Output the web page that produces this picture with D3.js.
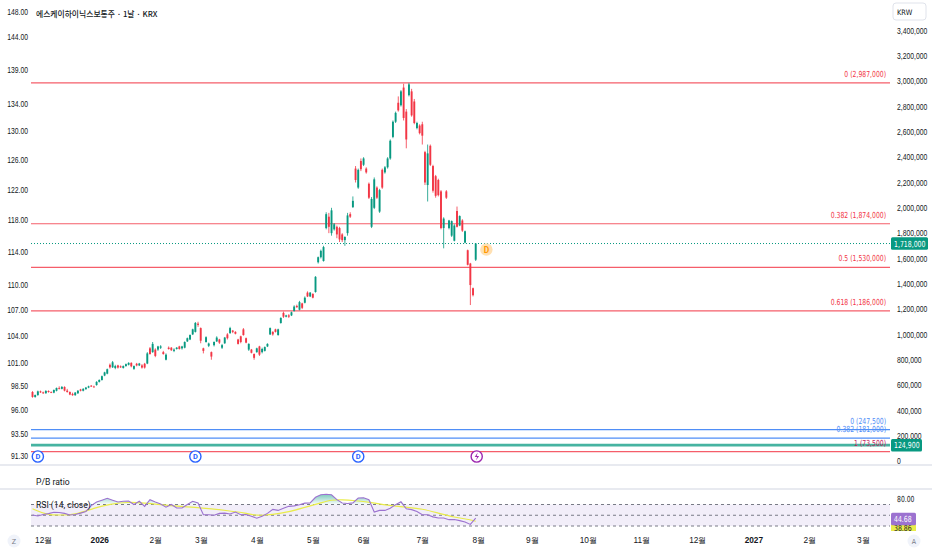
<!DOCTYPE html>
<meta charset="utf-8">
<style>
body { margin: 0; background: #fff; }
svg { display: block; font-family: "Liberation Sans Narrow", "DejaVu Sans Condensed", Roboto, sans-serif; }
.axis path.domain, .axis line { display: none; }
.axis text { font-size: 8.3px; fill: #131722; }
.fib-label { font-size: 8.3px; text-anchor: end; }
.pane-label { font-size: 8.6px; fill: #131722; font-family: Roboto, "Noto Sans", sans-serif; }
.narrow { transform-box: fill-box; transform-origin: 0% 50%; transform: scaleX(0.82); }
.narrow-end { transform-box: fill-box; transform-origin: 100% 50%; transform: scaleX(0.82); }
</style>
<body>
<div id="chart"></div>
<script src="https://d3js.org/d3.v7.min.js"></script>
<script>
// daily candles, thousand KRW: [open, high, low, close]
var candles = [
  [545,552,500,506],[506,525,500,521],[521,556,515,550],[550,556,538,542],[542,548,530,535],
  [535,560,532,553],[553,558,540,545],[545,550,536,540],[540,565,535,561],[555,580,550,577],
  [577,590,565,570],[570,592,566,585],[585,590,550,556],[556,570,540,545],[545,550,520,525],
  [530,540,515,520],[520,545,515,540],[535,560,530,555],[565,570,550,555],[555,575,550,570],
  [568,585,562,580],[580,595,575,590],[595,600,585,588],[588,595,580,585],[600,630,595,625],
  [625,645,620,640],[640,675,635,670],[675,705,670,700],[690,730,685,725],[760,770,730,740],
  [740,790,735,780],[735,760,725,750],[755,760,730,738],[748,755,735,740],[735,755,730,750],
  [750,770,745,765],[760,780,755,775],[775,780,740,748],[728,755,720,750],[768,775,748,755],
  [755,775,750,770],[755,765,730,738],[768,775,730,738],[770,860,765,850],[890,900,840,845],
  [860,940,855,925],[880,890,820,830],[880,910,870,905],[895,915,885,905],[860,870,840,845],
  [800,850,795,840],[895,905,880,885],[895,900,870,875],[870,890,860,880],[885,900,880,895],
  [905,910,880,885],[890,910,880,905],
  [895,945,890,940],[945,975,940,970],[960,1000,955,995],[1000,1045,995,1040],[1020,1098,1015,1090],
  [1085,1100,1060,1075],[1050,1055,930,950],[890,895,850,870],[940,985,935,978],[910,935,900,928],
  [860,865,800,825],[915,945,905,940],[945,985,940,975],[960,965,925,935],[895,925,885,915],
  [930,980,925,975],[1000,1010,960,970],[1010,1060,1005,1050],[1030,1035,1010,1020],[1020,1025,1000,1005],
  [960,965,920,925],[985,990,930,940],[1040,1050,990,995],[970,975,930,935],[880,930,870,925],
  [880,885,850,855],[845,850,800,815],[860,895,855,890],[905,910,830,840],[860,895,850,885],
  [870,905,865,900],[905,930,900,925],[1000,1055,995,1050],[1020,1025,990,1000],[1040,1045,1015,1020],
  [995,1045,990,1040],[1090,1135,1085,1130],[1170,1180,1130,1140],[1140,1155,1135,1150],[1150,1160,1130,1140],
  [1150,1180,1145,1175],[1185,1230,1180,1220],[1225,1235,1210,1215],[1195,1265,1190,1255],[1245,1250,1200,1210],
  [1250,1300,1245,1290],[1330,1340,1295,1300],[1300,1335,1295,1330],[1320,1325,1285,1290],[1335,1460,1330,1455],
  [1570,1615,1560,1610],[1610,1670,1600,1660],[1580,1700,1575,1690],[1840,1965,1830,1950],[1930,1960,1800,1850],
  [1800,2000,1780,1980],[1830,1880,1820,1870],[1850,1860,1760,1790],[1840,1850,1730,1750],[1790,1800,1730,1745],
  [1745,1775,1700,1770],[1800,1960,1780,1940],[1950,1965,1920,1930],[2005,2090,2000,2055],[2310,2330,2200,2220],
  [2160,2310,2150,2300],[2370,2390,2290,2305],[2340,2400,2330,2390],[2310,2320,2270,2280],[2190,2200,2070,2080],
  [1850,2085,1840,2070],[2000,2240,1990,2225],[2160,2170,2070,2080],[1970,2150,1960,2140],[2300,2310,2150,2160],
  [2280,2330,2270,2320],[2320,2400,2310,2390],[2390,2540,2380,2530],[2560,2690,2550,2680],[2680,2760,2670,2750],
  [2830,2880,2760,2770],[2810,2930,2800,2920],[2950,2980,2690,2710],[2760,2780,2470,2540],[2890,2987,2880,2975],
  [2920,2940,2720,2730],[2840,2860,2660,2670],[2630,2680,2620,2670],[2650,2660,2580,2590],[2660,2680,2500,2570],
  [2440,2450,2180,2200],[2180,2500,2050,2430],[2490,2500,2330,2340],[2330,2340,2120,2135],[2250,2260,2080,2095],
  [2220,2230,2090,2100],[2130,2140,1830,1840],[1840,1925,1680,1915],[2130,2140,2070,2080],[1840,1905,1830,1900],
  [1780,1900,1770,1895],[1740,1870,1735,1860],[1975,2010,1845,1850],[1860,1940,1855,1935],[1900,1910,1810,1820],
  [1725,1820,1720,1815],[1665,1670,1545,1550],[1560,1565,1232,1390],[1365,1370,1300,1310],[1590,1720,1580,1718]
];

// RSI(14) read every 2nd bar
var rsiValues = [50.5,48.5,51.5,53,55.5,55,53.5,50.5,51.5,54,57,68,74.6,78,81.5,78,74.6,76,76.5,70,
  76,66.6,79,74.6,71,65,70,63.5,63.5,70,76,72.8,51,51,50,53.5,54,52.3,56,51,
  51.5,48,44.5,48,53.5,61,59,63,66.6,67.5,69.5,72.5,73,83.4,88,89,88,79,72.8,72,
  73,82,82.5,79,56,59,59,63,69.7,75,62,60.4,57,51,51,47,45,45,41.8,42,
  40,37.5,33,44.68];
var rsiMaIndex = [0,5,11,17,23,29,36,42,48,54,61,67,73,80,84,90,96,102,108,112,116,121,126,133,140,146,152,158,164,166];
var rsiMaValues = [62,51,50,52,63.5,71,74.6,72.8,69.7,66.6,64.8,62,58.5,54,49,51,56,64.8,72.8,79,79,77,74.6,68.5,64.8,62,54,46.2,41.8,38.86];

var monthTickIndex = [4,25,46,63,84,105,124,146,167,187,208,228,249,270,291,311];
var monthTickLabels = ["12월","2026","2월","3월","4월","5월","6월","7월","8월","9월","10월","11월","12월","2027","2월","3월"];
var leftTicks = [148,144,139,134,130,126,122,118,114,110,107,104,101,98.5,96,93.5,91.3];
var rightTicks = [0,200000,400000,600000,800000,1000000,1200000,1400000,1600000,1800000,2000000,
  2200000,2400000,2600000,2800000,3000000,3200000,3400000];

var fibRatios = ["0","0.382","0.5","0.618"];
var fibValues = [2987000,1874000,1530000,1186000];
var fibLowRatios = ["0","0.382"];
var fibLowValues = [247500,181000];
var fibLowEndRatio = "1", fibLowEndValue = 73500;
var pbrLevel = 124900;
var lastPrice = 1718000;
var dividendIndex = [2,61,122];
var earningsIndex = [166];
var nextDividendIndex = [170];

var W = 932, H = 550;
var plotL = 31, plotR = 890;
var mainBottom = 464;

var x = d3.scaleLinear().domain([0, 166]).range([32.5, 475.7]);
var y = d3.scaleLinear().domain([0, 3400000]).range([461, 30.6]);
var yLeft = d3.scaleLog().domain([91.3, 148]).range([456, 12]);
var yRsi = d3.scaleLinear().domain([30, 70]).range([526, 504.5]);

var fmt = d3.format(",");
var svg = d3.select("#chart").append("svg").attr("width", W).attr("height", H);

var defs = svg.append("defs");
defs.append("clipPath").attr("id", "mainClip").append("rect")
  .attr("x", plotL).attr("y", 0).attr("width", plotR - plotL).attr("height", mainBottom);
defs.append("clipPath").attr("id", "rsiClip").append("rect")
  .attr("x", plotL).attr("y", 490).attr("width", plotR - plotL).attr("height", 41);
defs.append("clipPath").attr("id", "rsiAxisClip").append("rect")
  .attr("x", plotR).attr("y", 490).attr("width", W - plotR).attr("height", 41);
var grad = defs.append("linearGradient").attr("id", "obGrad")
  .attr("gradientUnits", "userSpaceOnUse").attr("x1", 0).attr("x2", 0)
  .attr("y1", yRsi(90)).attr("y2", yRsi(70));
grad.append("stop").attr("offset", "0").attr("stop-color", "#089981").attr("stop-opacity", 0.55);
grad.append("stop").attr("offset", "1").attr("stop-color", "#089981").attr("stop-opacity", 0.02);

// pane separators
[465, 489].forEach(function(s) {
  svg.append("line").attr("x1", 0).attr("x2", W).attr("y1", s).attr("y2", s)
    .attr("stroke", "#e0e3eb").attr("stroke-width", 1.5);
});

// ---------- main pane ----------
var main = svg.append("g").attr("clip-path", "url(#mainClip)");

fibValues.forEach(function(v) {
  main.append("line").attr("x1", plotL).attr("x2", plotR).attr("y1", y(v)).attr("y2", y(v))
    .attr("stroke", "#f23645").attr("stroke-opacity", 0.8).attr("stroke-width", 1.2);
});
fibLowValues.forEach(function(v) {
  main.append("line").attr("x1", plotL).attr("x2", plotR).attr("y1", y(v)).attr("y2", y(v))
    .attr("stroke", "#4f8ef7").attr("stroke-width", 1.2);
});
main.append("line").attr("x1", plotL).attr("x2", plotR).attr("y1", y(fibLowEndValue)).attr("y2", y(fibLowEndValue))
  .attr("stroke", "#f23645").attr("stroke-opacity", 0.8).attr("stroke-width", 1.2);
main.append("line").attr("x1", plotL).attr("x2", plotR).attr("y1", y(pbrLevel)).attr("y2", y(pbrLevel))
  .attr("stroke", "#089981").attr("stroke-opacity", 0.75).attr("stroke-width", 2.8);
main.append("line").attr("x1", plotL).attr("x2", plotR).attr("y1", y(lastPrice)).attr("y2", y(lastPrice))
  .attr("stroke", "#089981").attr("stroke-width", 1).attr("stroke-dasharray", "1,2");

// fib labels
fibValues.forEach(function(v, i) {
  main.append("text").attr("class", "fib-label narrow-end").attr("x", 886).attr("y", y(v) - 6)
    .attr("fill", "#f23645").text(fibRatios[i] + " (" + fmt(v) + ")");
});
fibLowValues.forEach(function(v, i) {
  main.append("text").attr("class", "fib-label narrow-end").attr("x", 886).attr("y", y(v) - 6)
    .attr("fill", "#4f8ef7").text(fibLowRatios[i] + " (" + fmt(v) + ")");
});
main.append("text").attr("class", "fib-label narrow-end").attr("x", 886).attr("y", y(fibLowEndValue) - 6)
  .attr("fill", "#c2185b").text(fibLowEndRatio + " (" + fmt(fibLowEndValue) + ")");

// candles
var bars = candles.map(function(d, i) {
  return { i: i, o: d[0] * 1000, h: d[1] * 1000, l: d[2] * 1000, c: d[3] * 1000 };
});
var cg = main.append("g");
var bar = cg.selectAll("g.bar").data(bars).enter().append("g");
bar.append("line")
  .attr("x1", function(d) { return x(d.i); }).attr("x2", function(d) { return x(d.i); })
  .attr("y1", function(d) { return y(d.h); }).attr("y2", function(d) { return y(d.l); })
  .attr("stroke", function(d) { return d.c >= d.o ? "#089981" : "#f23645"; })
  .attr("stroke-width", 0.8);
bar.append("rect")
  .attr("x", function(d) { return x(d.i) - 0.95; })
  .attr("width", 1.9)
  .attr("y", function(d) { return y(Math.max(d.o, d.c)); })
  .attr("height", function(d) { return Math.max(0.8, Math.abs(y(d.o) - y(d.c))); })
  .attr("fill", function(d) { return d.c >= d.o ? "#089981" : "#f23645"; });

// event markers
function dMarker(g, cx, cy) {
  g.append("circle").attr("cx", cx).attr("cy", cy).attr("r", 5.6)
    .attr("fill", "#fff").attr("stroke", "#2962ff").attr("stroke-width", 1.4);
  g.append("text").attr("x", cx).attr("y", cy + 2.8).attr("text-anchor", "middle")
    .attr("font-size", "7.5px").attr("font-weight", "bold").attr("fill", "#2962ff")
    .attr("font-family", "Roboto, sans-serif").text("D");
}
dividendIndex.forEach(function(i) { dMarker(svg, x(i), 456.5); });
earningsIndex.forEach(function(i) {
  var cx = x(i) + 1, cy = 456.5;
  svg.append("circle").attr("cx", cx).attr("cy", cy).attr("r", 5.6)
    .attr("fill", "#fff").attr("stroke", "#9c27b0").attr("stroke-width", 1.4);
  svg.append("path")
    .attr("d", "M" + (cx + 1) + "," + (cy - 4) + "l-3,4.4h2.4l-1.2,3.6l3.2,-4.6h-2.4z")
    .attr("fill", "#9c27b0");
});
nextDividendIndex.forEach(function(i) {
  var cx = x(i), cy = y(lastPrice) + 6;
  svg.append("circle").attr("cx", cx).attr("cy", cy).attr("r", 6.2).attr("fill", "#ffe0b2");
  svg.append("text").attr("x", cx).attr("y", cy + 3).attr("text-anchor", "middle")
    .attr("font-size", "8.4px").attr("font-weight", "bold").attr("fill", "#ff9800")
    .attr("font-family", "Roboto, sans-serif").text("D");
});

// title
svg.append("text").attr("x", 36).attr("y", 17)
  .attr("font-family", "'Noto Sans CJK KR', sans-serif").attr("font-size", "7.8px")
  .attr("font-weight", 500).attr("fill", "#131722")
  .text("에스케이하이닉스보통주 · 1날 · KRX");

// left axis
svg.append("g").attr("class", "axis").attr("transform", "translate(28,0)")
  .call(d3.axisLeft(yLeft).tickValues(leftTicks).tickSize(0).tickPadding(0).tickFormat(d3.format(".2f")))
  .selectAll("text").attr("class", "narrow-end");

// right axis
svg.append("g").attr("class", "axis").attr("transform", "translate(893,0)")
  .call(d3.axisRight(y).tickValues(rightTicks).tickSize(0).tickPadding(4).tickFormat(fmt))
  .selectAll("text").attr("class", "narrow");

// right axis price boxes
function priceBox(yc, w, fill, txt, clip) {
  var g = svg.append("g");
  if (clip) g.attr("clip-path", clip);
  g.append("rect").attr("x", 891).attr("y", yc - 6.3).attr("width", w).attr("height", 12.6)
    .attr("rx", 1.5).attr("fill", fill);
  g.append("text").attr("class", "narrow").attr("x", 894).attr("y", yc + 3).attr("font-size", "8.4px")
    .attr("fill", fill === "#e9ec4a" ? "#131722" : "#fff").text(txt);
  return g;
}
priceBox(y(lastPrice), 37, "#089981", fmt(lastPrice));
priceBox(y(pbrLevel), 31, "#089981", fmt(pbrLevel));

// KRW box
svg.append("rect").attr("x", 893).attr("y", 3).attr("width", 33).attr("height", 17).attr("rx", 3)
  .attr("fill", "#fff").attr("stroke", "#e0e3eb");
svg.append("text").attr("x", 897).attr("y", 14.5).attr("font-size", "7.4px").attr("fill", "#131722").text("KRW");

// ---------- P/B ratio pane ----------
svg.append("text").attr("class", "pane-label").attr("x", 36).attr("y", 484.5).text("P/B ratio");

// ---------- RSI pane ----------
var rsiG = svg.append("g").attr("clip-path", "url(#rsiClip)");
rsiG.append("rect").attr("x", plotL).attr("width", plotR - plotL)
  .attr("y", yRsi(70)).attr("height", yRsi(30) - yRsi(70))
  .attr("fill", "#7e57c2").attr("fill-opacity", 0.1);
[70, 50, 30].forEach(function(v) {
  rsiG.append("line").attr("x1", plotL).attr("x2", plotR).attr("y1", yRsi(v)).attr("y2", yRsi(v))
    .attr("stroke", "#787b86").attr("stroke-width", 1).attr("stroke-dasharray", "3,3");
});
var rsiPts = rsiValues.map(function(v, k) { return { i: k * 2, v: v }; });
rsiPts[rsiPts.length - 1].i = 166;
rsiG.append("path").datum(rsiPts)
  .attr("fill", "url(#obGrad)")
  .attr("d", d3.area().x(function(d) { return x(d.i); })
    .y0(yRsi(70)).y1(function(d) { return yRsi(Math.max(70, d.v)); }));
var maPts = rsiMaIndex.map(function(i, k) { return { i: i, v: rsiMaValues[k] }; });
rsiG.append("path").datum(maPts).attr("fill", "none").attr("stroke", "#e9ec4a").attr("stroke-width", 1.2)
  .attr("d", d3.line().curve(d3.curveBasis).x(function(d) { return x(d.i); }).y(function(d) { return yRsi(d.v); }));
rsiG.append("path").datum(rsiPts).attr("fill", "none").attr("stroke", "#9c72d0").attr("stroke-width", 1.1)
  .attr("d", d3.line().x(function(d) { return x(d.i); }).y(function(d) { return yRsi(d.v); }));

svg.append("text").attr("class", "pane-label").attr("x", 36).attr("y", 508).text("RSI (14, close)");

svg.append("text").attr("class", "narrow").attr("x", 897).attr("y", yRsi(80) + 3)
  .attr("font-size", "8.3px").attr("fill", "#131722").text("80.00");
priceBox(528, 25, "#e9ec4a", rsiMaValues[rsiMaValues.length - 1].toFixed(2), "url(#rsiAxisClip)");
priceBox(519, 25, "#9c72d0", rsiValues[rsiValues.length - 1].toFixed(2));

// ---------- time axis ----------
var xAxis = svg.append("g").attr("class", "axis").attr("transform", "translate(0,534)")
  .call(d3.axisBottom(x).tickValues(monthTickIndex).tickSize(0).tickPadding(3)
    .tickFormat(function(d, k) { return monthTickLabels[k]; }));
xAxis.selectAll("text").attr("font-weight", function(d, k) {
  return /^\d{4}$/.test(monthTickLabels[k]) ? "bold" : "normal";
});

// corner buttons
[[14, "Z"], [914, "A"]].forEach(function(b) {
  svg.append("circle").attr("cx", b[0]).attr("cy", 541).attr("r", 6.5).attr("fill", "#f0f3fa");
  svg.append("text").attr("x", b[0]).attr("y", 543.6).attr("text-anchor", "middle")
    .attr("font-size", "7px").attr("fill", "#787b86").text(b[1]);
});
</script>
</body>
